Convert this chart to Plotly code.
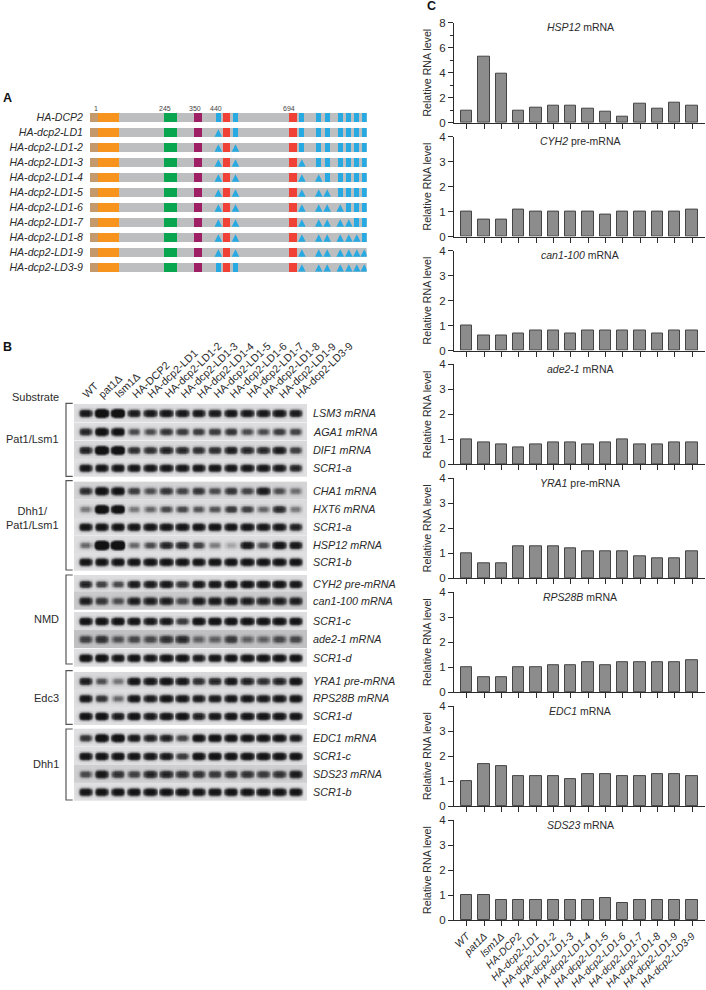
import plotly.graph_objects as go

W, H = 706, 990
FONT = "Liberation Sans"
INK = "#2b2b2b"

# panel A
CONSTRUCTS = ["HA-DCP2", "HA-dcp2-LD1", "HA-dcp2-LD1-2", "HA-dcp2-LD1-3", "HA-dcp2-LD1-4", "HA-dcp2-LD1-5",
              "HA-dcp2-LD1-6", "HA-dcp2-LD1-7", "HA-dcp2-LD1-8", "HA-dcp2-LD1-9", "HA-dcp2-LD3-9"]
REGION_START = [-20, 7, 239, 342, 445, 677]
REGION_END = [7, 82, 283, 370, 470, 702]
REGION_COLORS = ["#c49a6c", "#f7941d", "#0aa64f", "#9e1f63", "#ef4136", "#ef4136"]
LD_START = [420, 480, 712, 771, 801, 846, 876, 904, 930]
LD_END = [437, 497, 729, 788, 817, 863, 893, 921, 947]
# which LD sites are mutated (1-based) in each construct
MUTATED = [[], [1], [1, 2], [1, 2, 3], [1, 2, 3, 4], [1, 2, 3, 4, 5], [1, 2, 3, 4, 5, 6],
           [1, 2, 3, 4, 5, 6, 7], [1, 2, 3, 4, 5, 6, 7, 8], [1, 2, 3, 4, 5, 6, 7, 8, 9],
           [3, 4, 5, 6, 7, 8, 9]]
RESIDUE_LABELS = ["1", "245", "350", "440", "694", "970"]
RESIDUE_LABEL_POS = [1, 243, 347, 422, 677, 963]

# panel B
LANES = ["WT", "pat1Δ", "lsm1Δ", "HA-DCP2", "HA-dcp2-LD1", "HA-dcp2-LD1-2", "HA-dcp2-LD1-3", "HA-dcp2-LD1-4",
         "HA-dcp2-LD1-5", "HA-dcp2-LD1-6", "HA-dcp2-LD1-7", "HA-dcp2-LD1-8", "HA-dcp2-LD1-9", "HA-dcp2-LD3-9"]
BLOT_NAMES = ["LSM3 mRNA", "AGA1 mRNA", "DIF1 mRNA", "SCR1-a", "CHA1 mRNA", "HXT6 mRNA", "SCR1-a", "HSP12 mRNA",
              "SCR1-b", "CYH2 pre-mRNA", "can1-100 mRNA", "SCR1-c", "ade2-1 mRNA", "SCR1-d", "YRA1 pre-mRNA",
              "RPS28B mRNA", "SCR1-d", "EDC1 mRNA", "SCR1-c", "SDS23 mRNA", "SCR1-b"]
BLOT_BANDS = [
    [.85, 1.6, 1.6, .8, .85, .9, .85, .85, .8, .9, .85, .85, .9, .8],
    [.7, 1.2, 1.1, .45, .45, .6, .55, .55, .55, .6, .45, .45, .55, .5],
    [.7, 1.5, 1.4, .6, .6, .7, .65, .6, .6, .75, .65, .65, .8, .5],
    [.9, .95, .95, .9, .9, .9, .9, .9, .9, .9, .9, .9, .85, .7],
    [.6, 1.1, 1.0, .5, .4, .55, .45, .55, .4, .55, .45, .8, .4, .3],
    [.3, 1.5, 1.3, .3, .35, .45, .45, .4, .4, .55, .5, .35, .65, .3],
    [.95, 1, 1, .95, .95, .95, .95, .95, .95, .95, .95, .9, .9, .75],
    [.35, 2, 2, .35, .45, .7, .7, .5, .3, .2, .85, .45, .95, .85],
    [.95, 1, 1, 1, 1, 1, 1, .95, .95, 1, 1, 1, 1, 1],
    [.7, .5, .45, .8, .8, .85, .6, .85, .85, .95, .95, .9, .95, .85],
    [.7, .5, .35, .7, .7, .7, .4, .75, .75, .8, .7, .65, .7, .7],
    [.95, 1, 1, .95, .85, .85, .55, 1, 1, 1, 1, 1, 1, .95],
    [.4, .5, .3, .35, .35, .5, .55, .25, .25, .45, .25, .25, .35, .35],
    [1.05, 1.1, .9, 1, .9, 1, 1, .8, .9, 1, 1, 1, 1, 1],
    [.75, .4, .3, .9, .85, .95, .85, .6, .65, .85, .7, .6, .7, .95],
    [.9, .6, .35, .9, .8, .95, .9, .8, .8, .9, .9, .85, .9, .95],
    [1, 1.05, .8, 1, .85, .95, 1, .75, .85, .95, .95, .95, .95, .95],
    [.6, 1.2, 1.2, .85, .75, .75, .5, 1, 1, 1, 1, 1, 1, .8],
    [.95, 1, 1, .95, .9, .85, .55, 1, 1, 1, 1, 1, 1, 1],
    [.4, .85, .55, .45, .65, .65, .55, .55, .5, .55, .55, .5, .55, .75],
    [.95, 1, 1, 1, 1, 1, 1, .95, .95, 1, 1, 1, 1, 1],
]
BLOT_BACKGROUND = [.06, .06, .08, .05, .1, .07, .05, .06, .05, .06, .14, .06, .18, .05, .08, .06, .05, .05, .05, .12, .05]
GROUPS = ["Pat1/Lsm1", "Dhh1/<br>Pat1/Lsm1", "NMD", "Edc3", "Dhh1"]

# panel C
RNA_TITLES = ["<i>HSP12</i> mRNA", "<i>CYH2</i> pre-mRNA", "<i>can1-100</i> mRNA", "<i>ade2-1</i> mRNA",
              "<i>YRA1</i> pre-mRNA", "<i>RPS28B</i> mRNA", "<i>EDC1</i> mRNA", "<i>SDS23</i> mRNA"]
HSP12 = [1, 5.3, 3.9, 1, 1.2, 1.4, 1.4, 1.1, .9, .5, 1.5, 1.1, 1.6, 1.4]
CYH2 = [1, .7, .7, 1.1, 1, 1, 1, 1, .9, 1, 1, 1, 1, 1.1]
CAN1 = [1, .6, .6, .7, .8, .8, .7, .8, .8, .8, .8, .7, .8, .8]
ADE2 = [1, .9, .8, .7, .8, .9, .9, .8, .9, 1, .8, .8, .9, .9]
YRA1 = [1, .6, .6, 1.3, 1.3, 1.3, 1.2, 1.1, 1.1, 1.1, .9, .8, .8, 1.1]
RPS28B = [1, .6, .6, 1, 1, 1.1, 1.1, 1.2, 1.1, 1.2, 1.2, 1.2, 1.2, 1.3]
EDC1 = [1, 1.7, 1.6, 1.2, 1.2, 1.2, 1.1, 1.3, 1.3, 1.2, 1.2, 1.3, 1.3, 1.2]
SDS23 = [1, 1, .8, .8, .8, .8, .8, .8, .9, .7, .8, .8, .8, .8]
RNA_SERIES = [HSP12, CYH2, CAN1, ADE2, YRA1, RPS28B, EDC1, SDS23]

# layout, in page pixels
BLOT_Y = [413, 431.5, 450, 467.7, 490.7, 509, 526.7, 545, 561.7, 584, 600.7, 621, 639, 657.7, 681, 698.3, 716,
          737.7, 756, 774, 791.7]
BRACKETS = [(403.3, 476.3), (480.7, 570), (575, 664), (670.7, 724.3), (729, 800)]
GROUP_Y = [439, 518, 619, 697.7, 764]
# how a band fades across a lane and across its strip
LANE_PROFILE = [.08, .62, 1, 1, 1, .62]
STRIP_PROFILE = [0, .03, .28, .8, 1, .8, .28, .03, 0]


def fx(p):
    return p / W


def fy(p):
    return 1 - p / H


def label(text, x, y, size=10, xanchor="center", yanchor="middle", angle=0, color=INK):
    return dict(text=text, x=fx(x), y=fy(y), xref="paper", yref="paper", xanchor=xanchor, yanchor=yanchor,
                showarrow=False, textangle=angle, font=dict(size=size, color=color, family=FONT))


def bracket(top, bottom):
    return dict(type="path", xref="paper", yref="paper", line=dict(color="#555555", width=1.2),
                path=f"M {fx(72.7)} {fy(top)} L {fx(66)} {fy(top)} L {fx(66)} {fy(bottom)} L {fx(72.7)} {fy(bottom)}")


def blot_matrix(bands, background):
    rows = []
    for weight in STRIP_PROFILE:
        row = [background]
        for band in bands:
            row += [background + band * weight * p for p in LANE_PROFILE]
        rows.append(row + [background, background])
    return rows


fig = go.Figure()
annotations = []

# panel A: construct maps
for start, end, color in zip([-20] + REGION_START, [947] + REGION_END, ["#bcbec0"] + REGION_COLORS):
    fig.add_trace(go.Bar(y=CONSTRUCTS, x=[end - start] * len(CONSTRUCTS), base=start, orientation="h", width=.62,
                         marker=dict(color=color, line_width=0), xaxis="x", yaxis="y", showlegend=False))
for i, (start, end) in enumerate(zip(LD_START, LD_END)):
    intact = [c for c, m in zip(CONSTRUCTS, MUTATED) if i + 1 not in m]
    mutant = [c for c, m in zip(CONSTRUCTS, MUTATED) if i + 1 in m]
    fig.add_trace(go.Bar(y=intact, x=[end - start] * len(intact), base=start, orientation="h", width=.62,
                         marker=dict(color="#27aae1", line_width=0), xaxis="x", yaxis="y", showlegend=False))
    # arrow symbols hang from their tip, so these get their own subplot moved up a little
    fig.add_trace(go.Scatter(y=mutant, x=[(start + end) / 2] * len(mutant), mode="markers", xaxis="x11", yaxis="y11",
                             marker=dict(symbol="arrow-up", size=7.5, color="#27aae1", line_width=0),
                             showlegend=False))

# panel B: blots
for name, bands, background, y in zip(BLOT_NAMES, BLOT_BANDS, BLOT_BACKGROUND, BLOT_Y):
    fig.add_trace(go.Heatmap(z=blot_matrix(bands, background), x0=-.5 - 1 / len(LANE_PROFILE),
                             dx=1 / len(LANE_PROFILE), y0=y - 8, dy=2,
                             zsmooth="best", coloraxis="coloraxis", xaxis="x2", yaxis="y2", hoverinfo="skip"))
    annotations.append(label(f"<i>{name}</i>", 311, y, size=10.8, xanchor="left"))

for i, lane in enumerate(LANES):
    annotations.append(label(lane, 77 + i * 16.4, 403, size=10.7, xanchor="left", yanchor="bottom", angle=-44))

annotations.append(label("Substrate", 61, 397, size=11, xanchor="right"))
for group, y in zip(GROUPS, GROUP_Y):
    annotations.append(label(group, 61, y, size=11, xanchor="right"))

# panel C: bars
for n, (title, values) in enumerate(zip(RNA_TITLES, RNA_SERIES)):
    top = 22.7 + n * 113.9
    bottom = top + 100
    xname, yname = f"x{n + 3}", f"y{n + 3}"
    fig.add_trace(go.Bar(x=LANES, y=values, width=.65, xaxis=xname, yaxis=yname, showlegend=False,
                         marker=dict(color="#8c8c8c", line=dict(color="#444444", width=1))))
    last = n == len(RNA_SERIES) - 1
    fig.update_layout({
        f"xaxis{n + 3}": dict(domain=[fx(454), fx(705)], anchor=yname, type="category", categoryorder="array",
                              categoryarray=LANES, range=[-.733, 13.75], tickmode="array", tickvals=LANES,
                              ticktext=[f"<i>{c}</i>" for c in LANES], showticklabels=last, tickangle=-45,
                              ticks="outside", ticklen=5, tickcolor=INK, linecolor=INK, linewidth=1,
                              showline=True, showgrid=False, zeroline=False,
                              tickfont=dict(size=10.4, color=INK, family=FONT)),
        f"yaxis{n + 3}": dict(domain=[fy(bottom), fy(top)], anchor=xname, range=[0, 8 if n == 0 else 4],
                              tickmode="linear", tick0=0, dtick=2 if n == 0 else 1, ticks="outside", ticklen=5,
                              tickcolor=INK, linecolor=INK, linewidth=1, showline=True, showgrid=False,
                              zeroline=False, tickfont=dict(size=11.5, color=INK, family=FONT),
                              title=dict(text="Relative RNA level", standoff=5,
                                         font=dict(size=10.6, color=INK, family=FONT)),
                              minor=dict(dtick=1, ticks="outside", ticklen=3, tickcolor=INK) if n == 0 else None),
    })
    annotations.append(label(title, 580, top + 4.5, size=10.5))

# residue numbers over panel A
for text, pos in zip(RESIDUE_LABELS, RESIDUE_LABEL_POS):
    annotations.append(dict(text=text, x=pos, y=fy(108), xref="x", yref="paper", yanchor="middle", showarrow=False,
                            font=dict(size=7, color="#444444", family=FONT)))

annotations.append(label("<b>A</b>", 1, 98, size=12.5, xanchor="left", color="#111111"))
annotations.append(label("<b>B</b>", 1, 347, size=12.5, xanchor="left", color="#111111"))
annotations.append(label("<b>C</b>", 425, 6, size=12.5, xanchor="left", color="#111111"))

construct_axis = dict(type="category", categoryorder="array", categoryarray=CONSTRUCTS, range=[10.5, -.5],
                      showline=False, showgrid=False, zeroline=False, ticks="")

fig.update_layout(
    template="none",
    width=W,
    height=H,
    margin=dict(t=0, b=0, l=0, r=0),
    paper_bgcolor="white",
    plot_bgcolor="rgba(0,0,0,0)",
    barmode="overlay",
    bargap=0,
    showlegend=False,
    xaxis=dict(domain=[fx(90), fx(366.7)], range=[-20, 947], visible=False),
    yaxis=dict(domain=[fy(275.2), fy(110.2)], tickmode="array", tickvals=CONSTRUCTS,
               ticktext=[f"<i>{c}</i>" for c in CONSTRUCTS], ticklabelstandoff=6,
               tickfont=dict(size=10.6, color=INK, family=FONT), **construct_axis),
    xaxis11=dict(domain=[fx(90), fx(366.7)], range=[-20, 947], visible=False, anchor="y11"),
    yaxis11=dict(domain=[fy(271.7), fy(106.7)], anchor="x11", showticklabels=False, **construct_axis),
    xaxis2=dict(domain=[fx(74), fx(308)], range=[-.7, 13.79], visible=False),
    yaxis2=dict(domain=[fy(802), fy(403)], range=[802, 403], visible=False),
    coloraxis=dict(cmin=0, cmax=1, showscale=False,
                   colorscale=[[0, "#ececee"], [.2, "#bcbcbe"], [.45, "#505052"], [.75, "#1e1e20"], [1, "#121212"]]),
    shapes=[bracket(t, b) for t, b in BRACKETS],
    annotations=annotations,
)

fig.write_html("out.html", config={"displayModeBar": False}, post_script="document.body.style.margin='0';")
